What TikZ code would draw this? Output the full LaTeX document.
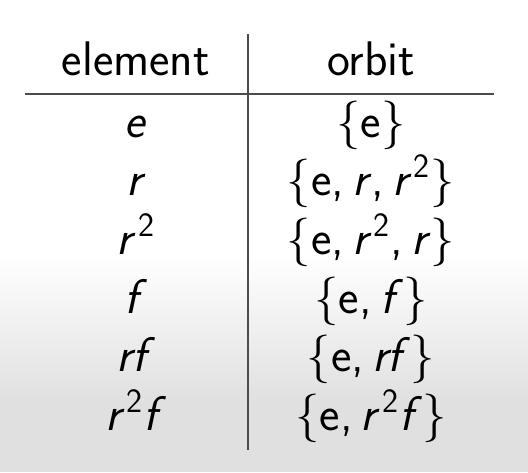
\RequirePackage{fix-cm}
\documentclass[tikz,border=0pt]{standalone}
\usepackage{amsmath}
\usepackage{tikz}
\usetikzlibrary{positioning}

\newcommand{\tabfont}{\fontsize{24.3}{29}\selectfont\sffamily}
\newcommand{\mv}[1]{\textsf{\textsl{#1}}}
\newcommand{\up}[1]{\textsf{#1}}
\newcommand{\cm}{\mathpunct{\textsf{,}}}
\newcommand{\rsq}{{\mv{r}\mkern0.8mu}^{\up{2}}}

\begin{document}
\begin{tikzpicture}[x=0.5pt,y=-0.5pt, cell/.style={anchor=base, font=\tabfont}, rule/.style={draw=black!70, line width=1pt}]
            \useasboundingbox (0,0) rectangle (528,472);
            \fill [ white ] (0,0) rectangle (528,255);
            \shade [ top color=white, bottom color=gray!24 ] (0,255) rectangle (528,400);
            \fill [ gray!24 ] (0,399.5) rectangle (528,472);
            % rules of the table
            \coordinate (hl) at (25,94); \coordinate (hr) at (494,94);
            \coordinate (vt) at (248,34); \coordinate (vb) at (248,450);
            \draw [ rule ] (hl) -- (hr);
            \draw [ rule ] (vt) -- (vb);
            % header
            \node [cell] (hElem) at (136,75) {element};
            \node [cell] (hOrb) at (371,75) {orbit};
            % element column
            \node [cell] (e1) at (136,137) {$\mv{e}$};
            \node [cell] (e2) at (136,195.5) {$\mv{r}$};
            \node [cell] (e3) at (136,254) {$\rsq$};
            \node [cell] (e4) at (136,313) {$\mv{f}$};
            \node [cell] (e5) at (136,371.5) {$\mv{rf}$};
            \node [cell] (e6) at (136,430) {$\rsq\mv{f}$};
            % orbit column
            \node [cell] (o1) at (371,137) {$\{\up{e}\}$};
            \node [cell] (o2) at (371,195.5) {$\{\up{e}\cm \mv{r}\cm \rsq\}$};
            \node [cell] (o3) at (371,254) {$\{\up{e}\cm \rsq\cm \mv{r}\}$};
            \node [cell] (o4) at (371,313) {$\{\up{e}\cm \mv{f}\}$};
            \node [cell] (o5) at (371,371.5) {$\{\up{e}\cm \mv{rf}\}$};
            \node [cell] (o6) at (371,430) {$\{\up{e}\cm \rsq\mv{f}\}$};
        \end{tikzpicture}
\end{document}
